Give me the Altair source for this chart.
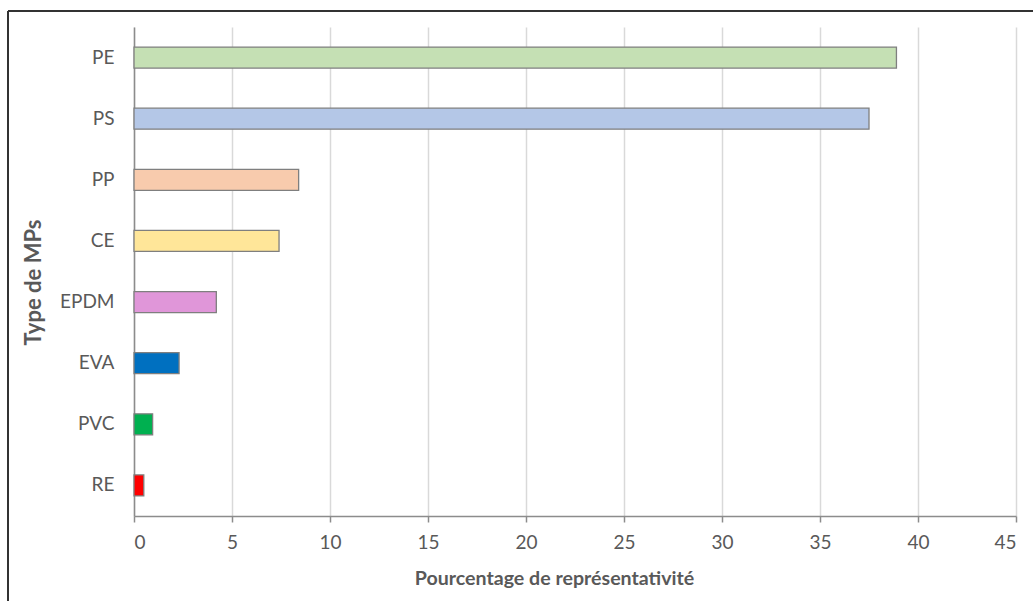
import altair as alt
import pandas as pd

# Microplastic types and their share (%)
types = ["PE", "PS", "PP", "CE", "EPDM", "EVA", "PVC", "RE"]
shares = [38.9, 37.5, 8.4, 7.4, 4.2, 2.3, 0.95, 0.5]
fills = ["#c5e0b4", "#b4c7e7", "#f8cbad", "#ffe699", "#e096d9", "#0070c0", "#00b050", "#ff0000"]
x_ticks = [0, 5, 10, 15, 20, 25, 30, 35, 40, 45]

df = pd.DataFrame({"type": types, "share": shares})

W, H = 882, 489
FONT = "Lato"
GREY = "#595959"

bars = alt.Chart(df).mark_bar(stroke="#7f7f7f", strokeWidth=1.3).encode(
    y=alt.Y(
        "type:N",
        sort=types,
        scale=alt.Scale(paddingInner=0.656, paddingOuter=0.328),
        axis=alt.Axis(
            title="Type de MPs",
            titleFont=FONT,
            titleFontSize=22,
            titleFontWeight="bold",
            titleColor=GREY,
            titleAngle=-90,
            titleX=-101,
            titleY=255,
            titleAlign="center",
            titleBaseline="middle",
            labelFont=FONT,
            labelFontSize=19,
            labelColor=GREY,
            labelPadding=20,
            ticks=False,
            domainColor="#8c8c8c",
            domainWidth=1.5,
            grid=False,
        ),
    ),
    x=alt.X(
        "share:Q",
        scale=alt.Scale(domain=[0, 45], nice=False),
        axis=alt.Axis(
            values=x_ticks,
            title="Pourcentage de représentativité",
            titleFont=FONT,
            titleFontSize=19.6,
            titleFontWeight="bold",
            titleColor=GREY,
            titleX=420,
            titleY=62,
            titleAlign="center",
            titleBaseline="middle",
            labelFont=FONT,
            labelFontSize=19,
            labelColor=GREY,
            labelPadding=11,
            tickSize=6,
            tickColor="#8c8c8c",
            tickWidth=1.5,
            domainColor="#8c8c8c",
            domainWidth=1.5,
            grid=True,
            gridColor="#d9d9d9",
            gridWidth=1.5,
        ),
    ),
    color=alt.Color(
        "type:N",
        scale=alt.Scale(domain=types, range=fills),
        legend=None,
    ),
)

# Outer frame around the chart
frame = alt.Chart(df).mark_rect(
    fill=None, stroke="#333333", strokeWidth=1, clip=False
).encode(
    x=alt.value(-126),
    x2=alt.value(W + 60),
    y=alt.value(-16),
    y2=alt.value(H + 120),
)

chart = (
    alt.layer(frame, bars)
    .properties(
        width=W,
        height=H,
        padding={"left": 134, "top": 27, "right": 17, "bottom": 85},
        autosize=alt.AutoSizeParams(type="none"),
        background="white",
    )
    .configure_view(stroke=None)
)

chart.save("out.html", embed_options={"renderer": "svg", "actions": False})
